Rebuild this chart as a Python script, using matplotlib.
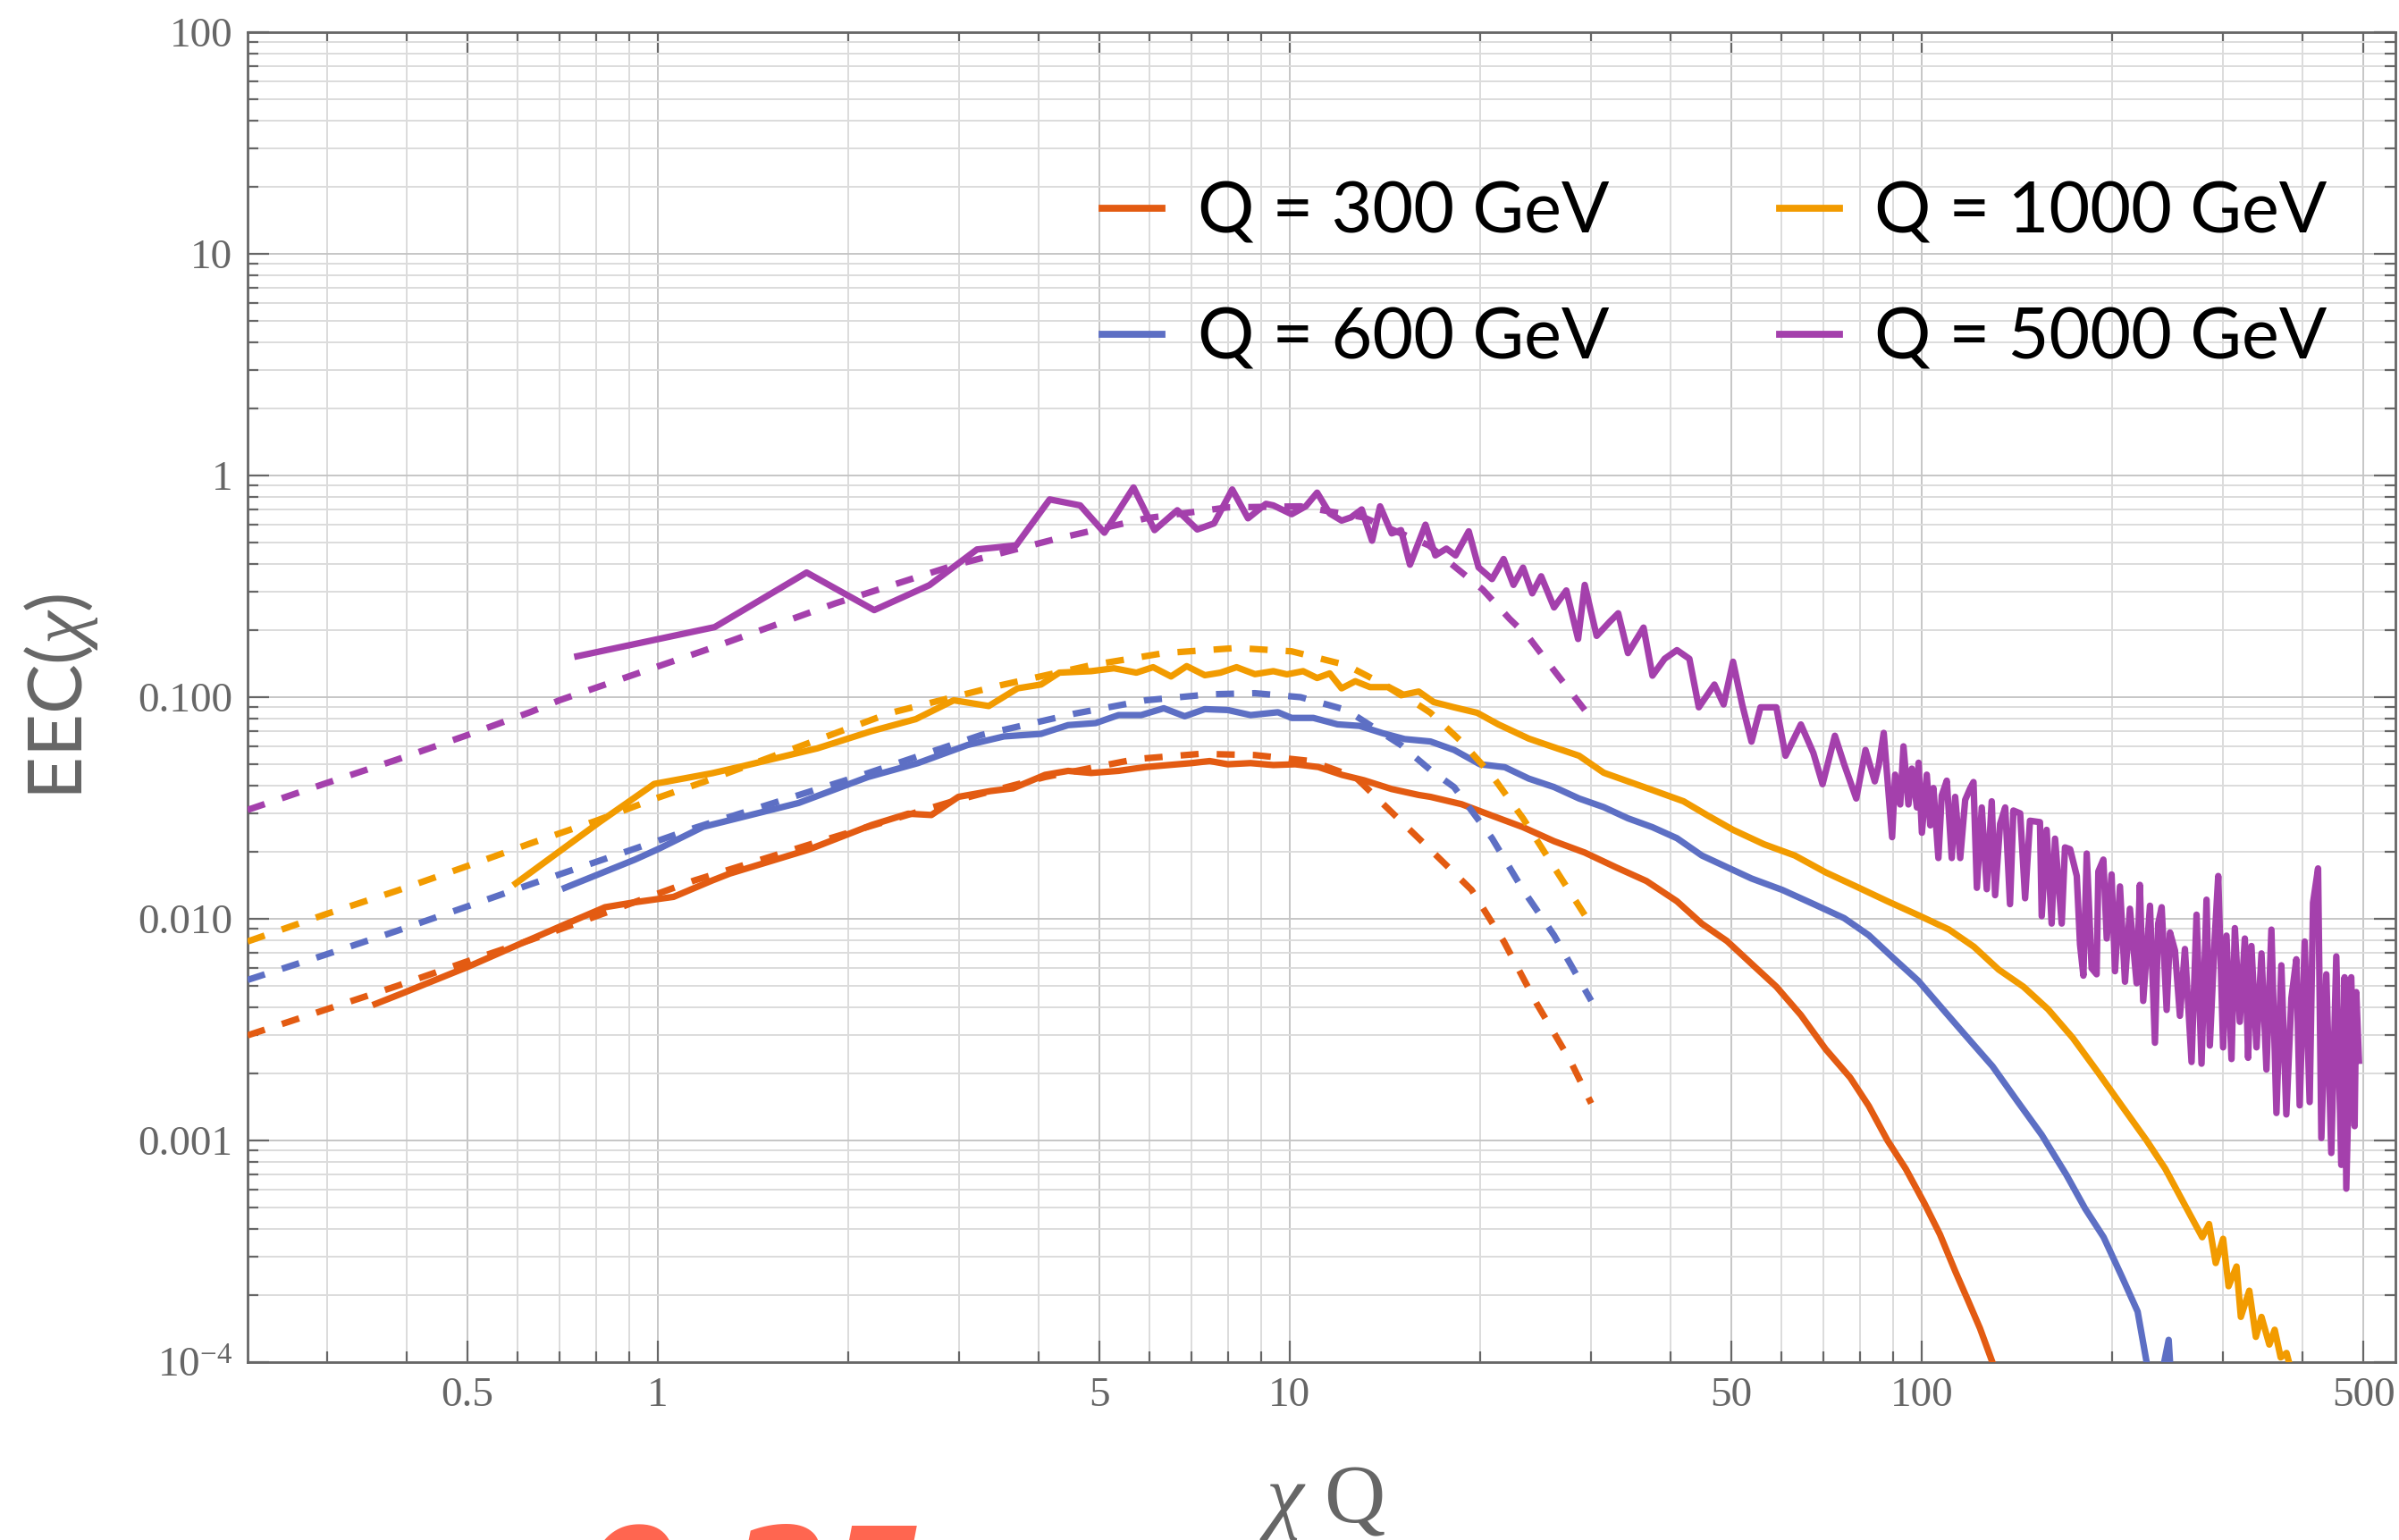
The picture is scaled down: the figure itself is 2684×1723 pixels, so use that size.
import matplotlib.pyplot as plt
from matplotlib.ticker import FixedLocator, FixedFormatter, NullFormatter

plt.rcParams['font.family'] = 'Liberation Serif'
plt.rcParams['mathtext.fontset'] = 'custom'
plt.rcParams['mathtext.rm'] = 'Liberation Serif'
plt.rcParams['mathtext.it'] = 'Liberation Serif:italic'

labels = ['Q = 300 GeV', 'Q = 600 GeV', 'Q = 1000 GeV', 'Q = 5000 GeV']
colors = ['#E35B12', '#5D6FC4', '#F29B00', '#A440AC']

# simulated EEC (solid)
x_300 = [0.3575, 0.3986, 0.501, 0.6025, 0.709, 0.825, 0.920, 1.059, 1.22, 1.30, 1.73, 2.18, 2.49, 2.71,
         2.99, 3.36, 3.65, 4.1, 4.46, 4.85, 5.36, 5.92, 6.43, 6.99, 7.47, 7.98, 8.67, 9.42, 10.2, 11.1,
         12.1, 13.1, 14.5, 16.0, 16.7, 18.7, 20.9, 23.4, 26.2, 29.3, 32.8, 36.7, 41.0, 44.9, 49.2, 53.8,
         58.9, 64.4, 70.5, 77.1, 82.5, 88.3, 94.4, 101, 106.9, 113.1, 118.3, 123.7, 129.4, 134]
y_300 = [0.00413, 0.00467, 0.00608, 0.00766, 0.00937, 0.01128, 0.01188, 0.01256, 0.0149, 0.0160, 0.0205,
         0.0265, 0.0298, 0.0294, 0.0355, 0.0377, 0.0388, 0.0446, 0.0465, 0.0455, 0.0465, 0.0484, 0.0494,
         0.0504, 0.0515, 0.0498, 0.0504, 0.0494, 0.0498, 0.0484, 0.0446, 0.0422, 0.0385, 0.0362, 0.0355,
         0.0329, 0.0292, 0.0259, 0.0224, 0.0199, 0.0171, 0.0148, 0.0120, 0.0095, 0.00794, 0.00627, 0.00494,
         0.00368, 0.00258, 0.00192, 0.00143, 0.00100, 0.000744, 0.000521, 0.000377, 0.000256, 0.000191,
         0.000142, 0.000100, 0.00008]

x_600 = [0.713, 0.92, 1.0, 1.18, 1.67, 2.15, 2.58, 3.09, 3.53, 4.04, 4.46, 4.93, 5.36, 5.82, 6.32, 6.82,
         7.34, 7.98, 8.67, 9.58, 10.07, 10.9, 11.9, 12.9, 14.0, 15.2, 16.7, 18.2, 20.0, 21.9, 23.9, 26.2,
         28.7, 31.4, 34.3, 37.5, 41.0, 44.9, 49.2, 53.8, 60.2, 67.4, 75.4, 82.5, 90.2, 98.8, 108.1, 118.3,
         129.5, 141.6, 154.9, 169.4, 181.5, 194.1, 207.6, 219.7, 227, 236, 246, 250]
y_600 = [0.0138, 0.0185, 0.0206, 0.026, 0.0333, 0.0436, 0.0504, 0.0608, 0.0665, 0.0683, 0.0748, 0.0764,
         0.083, 0.083, 0.0891, 0.082, 0.0883, 0.0875, 0.083, 0.0855, 0.0806, 0.0806, 0.0754, 0.0742, 0.0689,
         0.0647, 0.0631, 0.0578, 0.0498, 0.0483, 0.0429, 0.0393, 0.0349, 0.0319, 0.0284, 0.0259, 0.0231,
         0.0193, 0.0171, 0.0152, 0.0135, 0.01167, 0.01007, 0.00843, 0.00665, 0.00525, 0.0039, 0.0029,
         0.00216, 0.00151, 0.00106, 0.000701, 0.000492, 0.000366, 0.000242, 0.000169, 0.0001, 0.00007,
         0.000126, 0.00006]

x_1000 = [0.596, 0.807, 0.987, 1.22, 1.37, 1.79, 2.18, 2.56, 2.94, 3.34, 3.71, 4.04, 4.32, 4.85, 5.27,
          5.72, 6.08, 6.49, 6.87, 7.34, 7.77, 8.24, 8.81, 9.42, 9.9, 10.5, 11.05, 11.57, 12.08, 12.7, 13.4,
          14.3, 15.0, 16.0, 16.9, 18.2, 19.8, 21.4, 23.9, 26.2, 28.7, 31.4, 34.3, 37.5, 42.0, 45.9, 50.3,
          56.3, 63.0, 70.5, 78.9, 88.3, 98.9, 110.5, 121, 132.4, 144.9, 158.5, 173.5, 189.9, 207.6, 227,
          243, 260, 278, 285, 292, 300, 306, 315, 320, 330, 338, 345, 355, 362, 370, 378, 385]
y_1000 = [0.01445, 0.0272, 0.0406, 0.0454, 0.049, 0.0588, 0.0703, 0.0796, 0.0968, 0.0912, 0.1096, 0.114,
          0.129, 0.131, 0.135, 0.129, 0.1365, 0.124, 0.138, 0.1256, 0.129, 0.1365, 0.127, 0.131, 0.1267,
          0.131, 0.122, 0.128, 0.1096, 0.118, 0.111, 0.111, 0.102, 0.106, 0.095, 0.090, 0.085, 0.0753,
          0.065, 0.0594, 0.0544, 0.0456, 0.0417, 0.0381, 0.0339, 0.0292, 0.0252, 0.0217, 0.0193, 0.0162,
          0.01396, 0.0120, 0.01037, 0.00894, 0.00748, 0.0059, 0.00494, 0.00391, 0.0029, 0.00204, 0.001427,
          0.001, 0.000745, 0.000521, 0.000366, 0.00042, 0.00028, 0.00036, 0.00022, 0.00027, 0.00016,
          0.00021, 0.00013, 0.00016, 0.00012, 0.00014, 0.000105, 0.00011, 0.00009]

x_5000 = [0.746, 1.23, 1.72, 2.20, 2.69, 3.20, 3.69, 4.17, 4.66, 5.09, 5.66, 6.11, 6.64, 7.14, 7.59, 8.11,
          8.59, 9.17, 9.42, 10.07, 10.6, 11.05, 11.57, 12.08, 12.5, 13.0, 13.5, 13.9, 14.5, 15.0, 15.5,
          16.4, 17.0, 17.7, 18.3, 19.2, 19.9, 20.9, 21.8, 22.6, 23.4, 24.2, 25.0, 26.2, 27.4, 28.6, 29.3,
          30.6, 32.1, 33.1, 34.3, 36.3, 37.5, 39.2, 41.0, 42.9, 44.4, 47.0, 48.6, 50.3, 52.0, 53.8, 55.6,
          58.9, 60.9, 64.4, 67.4, 69.7, 72.9, 75.4, 78.8, 81.5, 84.3,
          85.5, 87.1, 89.8, 90.8, 92.5, 93.6, 95.3, 96.5, 98.3, 98.9, 100.1, 101.9, 103.2, 104.4, 106.3,
          107.6, 109.6, 111.6, 113.0, 115.1, 117.2, 119.4, 120.8, 122.3, 124.5, 126.8, 129.1, 130.7, 133.1,
          135.6, 138.0, 139.7, 143.2, 145.8, 148.4, 153.9, 154.9, 157.7, 160.6, 162.6, 166.6, 168.6, 171.8,
          176.0, 178.1, 180.3, 182.5, 185.8, 189.2, 190.4, 193.9, 196.3, 199.8, 202.3, 206.0, 209.8, 213.6,
          218.9, 221.5, 224.2, 229.8, 234.0, 236.8, 239.8, 244.2, 247.2, 251.7, 256.3, 261.0, 267.4, 272.3,
          277.3, 282.4, 285.8, 291.1, 294.7, 300.0, 303.7, 309.3, 313.1, 318.8, 324.7, 328.6, 332.6, 338.8,
          345.0, 351.3, 357.7, 364.3, 370.9, 377.7, 384.7, 391.7, 396.5, 403.8, 411.2, 416.3, 424.0, 429.1,
          436.9, 444.9, 453.1, 461.4, 467.0, 469.9, 478.5, 484.4, 487.3, 492.1]
y_5000 = [0.153, 0.207, 0.365, 0.247, 0.32, 0.464, 0.484, 0.78, 0.733, 0.552, 0.883, 0.567, 0.697, 0.571,
          0.608, 0.865, 0.641, 0.745, 0.733, 0.669, 0.726, 0.837, 0.674, 0.626, 0.647, 0.703, 0.508, 0.726,
          0.548, 0.567, 0.396, 0.60, 0.436, 0.468, 0.436, 0.56, 0.385, 0.341, 0.42, 0.321, 0.384, 0.294,
          0.351, 0.254, 0.303, 0.183, 0.321, 0.189, 0.219, 0.239, 0.158, 0.206, 0.125, 0.149, 0.163, 0.149,
          0.090, 0.114, 0.0927, 0.1445, 0.0927, 0.063, 0.090, 0.09, 0.0544, 0.0753, 0.056, 0.0405, 0.067,
          0.0498, 0.0349, 0.0578, 0.0417,
          0.0491, 0.069, 0.02335, 0.0447, 0.0328, 0.060, 0.0328, 0.0476, 0.0318, 0.0506, 0.02445, 0.0447,
          0.0264, 0.0389, 0.0188, 0.036, 0.042, 0.0188, 0.0355, 0.0188, 0.0344, 0.0389, 0.0414, 0.0138,
          0.0318, 0.0136, 0.0339, 0.01278, 0.0268, 0.0318, 0.01164, 0.0308, 0.0299, 0.01238, 0.0277, 0.0273,
          0.01028, 0.0252, 0.00952, 0.023, 0.00952, 0.021, 0.0206, 0.0156, 0.00766, 0.00554, 0.0197,
          0.00598, 0.00562, 0.01636, 0.0185, 0.00815, 0.01586, 0.0058, 0.014, 0.0052, 0.0111, 0.00512,
          0.01423, 0.00426, 0.01146, 0.00276, 0.00952, 0.01128, 0.00388, 0.00868, 0.0072, 0.00365, 0.00731,
          0.00226, 0.01044, 0.00222, 0.0122, 0.00268, 0.0084, 0.0156, 0.00263, 0.0084, 0.00233, 0.00908,
          0.00343, 0.00815, 0.00236, 0.00754, 0.00263, 0.00698, 0.00209, 0.00894, 0.00133, 0.00617, 0.00131,
          0.00439, 0.00657, 0.00144, 0.0079, 0.00149, 0.01182, 0.01688, 0.001025, 0.00562, 0.000878,
          0.00677, 0.000776, 0.00545, 0.000606, 0.00545, 0.00116, 0.00467, 0.00229]

# theory curves (dashed)
xd_300 = [0.2243, 0.297, 0.386, 0.495, 0.629, 0.799, 1.014, 1.143, 1.79, 2.94, 4.1, 5.72, 7.22, 8.81,
          10.8, 12.7, 16.7, 19.4, 21.8, 24.6, 27.8, 30.0]
yd_300 = [0.00298, 0.00388, 0.00497, 0.00637, 0.00803, 0.01028, 0.01318, 0.0149, 0.0222, 0.034, 0.0436,
          0.0526, 0.0555, 0.0548, 0.0515, 0.0436, 0.0205, 0.0135, 0.00794, 0.00414, 0.00229, 0.00147]

xd_600 = [0.2243, 0.297, 0.386, 0.495, 0.629, 0.799, 1.014, 1.143, 2.11, 3.25, 4.54, 5.92, 7.47, 8.81,
          10.4, 12.3, 15.0, 16.7, 18.2, 20.9, 23.4, 26.2, 30.0]
yd_600 = [0.0053, 0.00687, 0.00881, 0.01127, 0.01432, 0.01807, 0.0228, 0.0257, 0.0446, 0.0675, 0.084,
          0.0968, 0.103, 0.1042, 0.1, 0.0875, 0.0608, 0.0469, 0.0393, 0.0231, 0.0135, 0.00843, 0.00427]

xd_1000 = [0.2243, 0.297, 0.386, 0.495, 0.629, 0.799, 0.992, 1.18, 2.33, 3.48, 4.85, 6.32, 8.25, 10.07,
           12.3, 15.0, 16.7, 18.7, 20.9, 23.4, 26.2, 29.3]
yd_1000 = [0.0079, 0.01045, 0.01337, 0.01714, 0.0219, 0.0277, 0.0349, 0.0414, 0.0848, 0.113, 0.1394,
           0.158, 0.1667, 0.161, 0.1394, 0.104, 0.085, 0.063, 0.0443, 0.0284, 0.0171, 0.0104]

xd_5000 = [0.2243, 0.297, 0.386, 0.495, 0.629, 0.70, 1.2, 1.91, 2.94, 4.24, 5.92, 7.98, 10.4, 13.1, 16.6,
           18.2, 20.2, 22.3, 23.9, 26.2, 29.3]
yd_5000 = [0.031, 0.0407, 0.0522, 0.0668, 0.0857, 0.097, 0.1645, 0.265, 0.393, 0.515, 0.641, 0.718,
           0.726, 0.647, 0.484, 0.39, 0.306, 0.225, 0.186, 0.132, 0.0875]

solid = [(x_300, y_300), (x_600, y_600), (x_1000, y_1000), (x_5000, y_5000)]
dashed = [(xd_300, yd_300), (xd_600, yd_600), (xd_1000, yd_1000), (xd_5000, yd_5000)]

fig = plt.figure(figsize=(13.42, 8.615), dpi=200)
ax = fig.add_axes([0.1032, 0.1155, 0.8953, 0.8636])

for (xs, ys), c, lab in zip(solid, colors, labels):
    ax.plot(xs, ys, color=c, lw=2.6, label=lab, zorder=3)
for (xs, ys), c in zip(dashed, colors):
    ax.plot(xs, ys, color=c, lw=2.6, dashes=(2.8, 2.8), zorder=4)

ax.set_xscale('log')
ax.set_yscale('log')
ax.set_xlim(0.2243, 562)
ax.set_ylim(1e-4, 100)

# ticks
x_major = [0.5, 1, 5, 10, 50, 100, 500]
x_major_labels = ['0.5', '1', '5', '10', '50', '100', '500']
x_minor = [0.3, 0.4, 0.6, 0.7, 0.8, 0.9, 2, 3, 4, 6, 7, 8, 9, 20, 30, 40, 60, 70, 80, 90,
           200, 300, 400]
y_major = [1e-4, 1e-3, 1e-2, 1e-1, 1, 10, 100]
y_major_labels = [r'$\mathrm{10^{-4}}$', '0.001', '0.010', '0.100', '1', '10', '100']
y_minor = [m * 10.0 ** e for e in range(-4, 2) for m in range(2, 10)]

ax.xaxis.set_major_locator(FixedLocator(x_major))
ax.xaxis.set_major_formatter(FixedFormatter(x_major_labels))
ax.xaxis.set_minor_locator(FixedLocator(x_minor))
ax.xaxis.set_minor_formatter(NullFormatter())
ax.yaxis.set_major_locator(FixedLocator(y_major))
ax.yaxis.set_major_formatter(FixedFormatter(y_major_labels))
ax.yaxis.set_minor_locator(FixedLocator(y_minor))
ax.yaxis.set_minor_formatter(NullFormatter())

ax.tick_params(which='both', direction='in', top=True, right=True, color='#666666',
               labelcolor='#666666', labelsize=17, width=0.8)
ax.tick_params(which='major', length=8.8, pad=6)
ax.tick_params(which='minor', length=4.4)

ax.grid(which='major', color='#c6c6c6', lw=0.7)
ax.grid(which='minor', color='#dcdcdc', lw=0.7)
ax.set_axisbelow(True)
for sp in ax.spines.values():
    sp.set_color('#666666')
    sp.set_linewidth(1.0)

leg = ax.legend(ncol=2, loc='center', bbox_to_anchor=(0.6831, 0.8165), frameon=False,
                prop={'family': 'Lato', 'size': 28.5}, handlelength=0.85,
                handletextpad=0.5, columnspacing=2.4, labelspacing=0.88, borderpad=0)
for line in leg.get_lines():
    line.set_linewidth(2.8)

fig.text(68.5 / 2684, 1 - 779 / 1723, r'EEC($\chi$)', rotation=90, ha='center', va='center',
         fontsize=30, family='Lato', color='#666666')
fig.text(1480 / 2684, 1 - 1703 / 1723, r'$\chi$ Q', ha='center', va='baseline',
         fontsize=34, family='Liberation Serif', color='#666666')
fig.text(650 / 2684, 1 - 1822 / 1723, '0.25', fontsize=56, fontweight='bold', fontstyle='italic',
         color='#FF6650', family='DejaVu Sans', ha='left', va='baseline')

fig.savefig('out.png', dpi=200)
